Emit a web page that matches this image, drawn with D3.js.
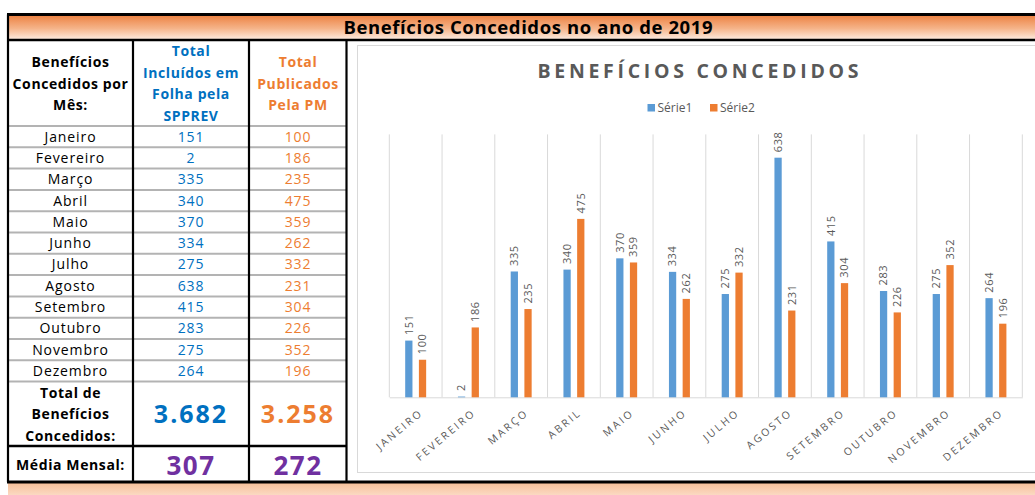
<!DOCTYPE html>
<html>
<head>
<meta charset="utf-8">
<script src="https://cdn.jsdelivr.net/npm/d3@7"></script>
<style>
  body { margin: 0; background: #fff; }
  svg { display: block; font-family: "Open Sans", sans-serif; }
</style>
</head>
<body>
<svg id="sheet" width="1035" height="495"></svg>
<script>
// data
const months = ["Janeiro", "Fevereiro", "Março", "Abril", "Maio", "Junho", "Julho", "Agosto", "Setembro", "Outubro", "Novembro", "Dezembro"];
const seriesNames = ["Série1", "Série2"];
const incluidos = [151, 2, 335, 340, 370, 334, 275, 638, 415, 283, 275, 264];
const publicados = [100, 186, 235, 475, 359, 262, 332, 231, 304, 226, 352, 196];
const yMax = 700;

const headerMes = ["Benefícios", "Concedidos por", "Mês:"];
const headerIncl = ["Total", "Incluídos em", "Folha pela", "SPPREV"];
const headerPub = ["Total", "Publicados", "Pela PM"];
const totalLabel = ["Total de", "Benefícios", "Concedidos:"];

const BLUE_TXT = "#0070c0";
const ORANGE_TXT = "#ed7d31";
const PURPLE = "#7030a0";
const BAR_COLORS = ["#5b9bd5", "#ed7d31"];
const GREY = "#595959";

const svg = d3.select("#sheet");
const defs = svg.append("defs");

const titleGrad = defs.append("linearGradient").attr("id", "titleGrad").attr("x1", 0).attr("x2", 0).attr("y1", 0).attr("y2", 1);
titleGrad.append("stop").attr("offset", "0%").attr("stop-color", "#ec7f3e");
titleGrad.append("stop").attr("offset", "55%").attr("stop-color", "#f5b48a");
titleGrad.append("stop").attr("offset", "100%").attr("stop-color", "#fdeee4");
const footGrad = defs.append("linearGradient").attr("id", "footGrad").attr("x1", 0).attr("x2", 0).attr("y1", 0).attr("y2", 1);
footGrad.append("stop").attr("offset", "0%").attr("stop-color", "#f6c09a");
footGrad.append("stop").attr("offset", "100%").attr("stop-color", "#fbd9c2");

// ---------- table ----------
const T = { left: 8, top: 14.5, titleBottom: 40, headerBottom: 126, rowsBottom: 381.6, totalBottom: 446, bottom: 482 };
const colX = [8, 133, 249, 346.5];
const colCenter = [70.5, 191, 298];

svg.append("rect").attr("x", T.left).attr("y", T.top).attr("width", 1035 - T.left).attr("height", T.titleBottom - T.top).attr("fill", "url(#titleGrad)");
svg.append("rect").attr("x", T.left).attr("y", T.bottom + 1).attr("width", 1035 - T.left).attr("height", 495 - T.bottom - 1).attr("fill", "url(#footGrad)");

svg.append("text")
  .attr("x", 528).attr("y", 33.5)
  .attr("text-anchor", "middle")
  .attr("font-size", 18.5).attr("font-weight", 700)
  .attr("fill", "#000")
  .attr("textLength", 369).attr("lengthAdjust", "spacing")
  .text("Benefícios Concedidos no ano de 2019");

const row = d3.scaleBand().domain(months).range([T.headerBottom, T.rowsBottom]);

// grey row dividers
const dividers = [T.headerBottom].concat(months.slice(1).map((m) => row(m)));
svg.append("g").selectAll("line").data(dividers).join("line")
  .attr("x1", T.left).attr("x2", colX[3])
  .attr("y1", (d) => d).attr("y2", (d) => d)
  .attr("stroke", "#b3b3b3").attr("stroke-width", 2);
svg.append("line").attr("x1", T.left).attr("x2", colX[3]).attr("y1", T.rowsBottom).attr("y2", T.rowsBottom)
  .attr("stroke", "#b3b3b3").attr("stroke-width", 2);

const multiLine = (lines, cx, cy, color, size) => {
  svg.append("g").selectAll("text").data(lines).join("text")
    .attr("x", cx)
    .attr("y", (d, i) => cy + (i - (lines.length - 1) / 2) * 21.5 + 5.5)
    .attr("text-anchor", "middle")
    .attr("font-size", size).attr("font-weight", 700)
    .attr("letter-spacing", 0.6)
    .attr("fill", color)
    .text((d) => d);
};
const headMid = (T.titleBottom + T.headerBottom) / 2;
multiLine(headerMes, colCenter[0], headMid, "#000", 14);
multiLine(headerIncl, colCenter[1], headMid, BLUE_TXT, 14);
multiLine(headerPub, colCenter[2], headMid, ORANGE_TXT, 14);

const rowText = svg.append("g").attr("font-size", 14).attr("letter-spacing", 0.9).attr("text-anchor", "middle");
months.forEach((m, i) => {
  const cy = row(m) + row.bandwidth() / 2 + 5;
  rowText.append("text").attr("x", colCenter[0]).attr("y", cy).attr("fill", "#000").text(m);
  rowText.append("text").attr("x", colCenter[1]).attr("y", cy).attr("fill", BLUE_TXT).text(incluidos[i]);
  rowText.append("text").attr("x", colCenter[2]).attr("y", cy).attr("fill", ORANGE_TXT).text(publicados[i]);
});

const fmtTotal = (v) => d3.format(",")(v).replace(/,/g, ".");
const totMid = (T.rowsBottom + T.totalBottom) / 2;
multiLine(totalLabel, colCenter[0], totMid, "#000", 14);
svg.append("text").attr("x", colCenter[1]).attr("y", totMid + 9.5).attr("text-anchor", "middle")
  .attr("font-size", 25).attr("font-weight", 700).attr("letter-spacing", 2).attr("fill", BLUE_TXT)
  .text(fmtTotal(d3.sum(incluidos)));
svg.append("text").attr("x", colCenter[2]).attr("y", totMid + 9.5).attr("text-anchor", "middle")
  .attr("font-size", 25).attr("font-weight", 700).attr("letter-spacing", 2).attr("fill", ORANGE_TXT)
  .text(fmtTotal(d3.sum(publicados)));

const medMid = (T.totalBottom + T.bottom) / 2;
svg.append("text").attr("x", colCenter[0]).attr("y", medMid + 6).attr("text-anchor", "middle")
  .attr("font-size", 14).attr("font-weight", 700).attr("letter-spacing", 0.6).text("Média Mensal:");
svg.append("text").attr("x", colCenter[1]).attr("y", medMid + 10.5).attr("text-anchor", "middle")
  .attr("font-size", 26).attr("font-weight", 700).attr("letter-spacing", 1.5).attr("fill", PURPLE)
  .text(Math.round(d3.mean(incluidos)));
svg.append("text").attr("x", colCenter[2]).attr("y", medMid + 10.5).attr("text-anchor", "middle")
  .attr("font-size", 26).attr("font-weight", 700).attr("letter-spacing", 1.5).attr("fill", PURPLE)
  .text(Math.round(d3.mean(publicados)));

// black rules
const black = svg.append("g").attr("stroke", "#000");
black.append("line").attr("x1", T.left - 1).attr("x2", 1035).attr("y1", T.top).attr("y2", T.top).attr("stroke-width", 3);
black.append("line").attr("x1", T.left - 1).attr("x2", 1035).attr("y1", T.titleBottom).attr("y2", T.titleBottom).attr("stroke-width", 2.5);
black.append("line").attr("x1", T.left - 1).attr("x2", colX[3]).attr("y1", T.totalBottom).attr("y2", T.totalBottom).attr("stroke-width", 2.5);
black.append("line").attr("x1", T.left - 1).attr("x2", 1035).attr("y1", T.bottom).attr("y2", T.bottom).attr("stroke-width", 3);
black.selectAll(".col").data(colX).join("line")
  .attr("x1", (d) => d).attr("x2", (d) => d)
  .attr("y1", (d, i) => (i === 0 ? T.top : T.titleBottom)).attr("y2", T.bottom)
  .attr("stroke-width", 2.2);

// ---------- chart ----------
svg.append("rect").attr("x", 357.5).attr("y", 45.5).attr("width", 700).attr("height", 427)
  .attr("fill", "#fff").attr("stroke", "#d9d9d9");

svg.append("text")
  .attr("x", 698).attr("y", 78.3)
  .attr("text-anchor", "middle")
  .attr("font-size", 19.5).attr("font-weight", 700)
  .attr("fill", GREY)
  .attr("textLength", 321).attr("lengthAdjust", "spacing")
  .text("BENEFÍCIOS CONCEDIDOS");

const legend = svg.append("g").attr("font-size", 12).attr("fill", GREY);
const legendX = [647.5, 710];
seriesNames.forEach((name, i) => {
  legend.append("rect").attr("x", legendX[i]).attr("y", 104).attr("width", 7.5).attr("height", 7.5).attr("fill", BAR_COLORS[i]);
  legend.append("text").attr("x", legendX[i] + 10).attr("y", 111.7).text(name);
});

const x = d3.scaleBand().domain(months).range([389.3, 1022.3]);
const xs = d3.scaleBand().domain(seriesNames).range([0, x.bandwidth()]).paddingInner(0.47).paddingOuter(1.16);
const y = d3.scaleLinear().domain([0, yMax]).range([397.3, 134.4]);

const gridX = months.map((m) => x(m)).concat([x.range()[1]]);
svg.append("g").selectAll("line").data(gridX).join("line")
  .attr("x1", (d) => d).attr("x2", (d) => d)
  .attr("y1", y(0)).attr("y2", y(yMax))
  .attr("stroke", "#d9d9d9").attr("stroke-width", 1);

const xAxis = svg.append("g")
  .attr("transform", `translate(0,${y(0)})`)
  .call(d3.axisBottom(x).tickSize(0).tickFormat((d) => d.toUpperCase()));
xAxis.select(".domain").attr("stroke", "#d9d9d9");
xAxis.selectAll("text")
  .attr("font-family", "\"Open Sans\", sans-serif")
  .attr("font-size", 10.5)
  .attr("letter-spacing", 2.3)
  .attr("fill", GREY)
  .attr("text-anchor", "end")
  .attr("x", 0).attr("y", 0).attr("dy", 0)
  .attr("transform", "translate(8,16.6) rotate(-40)");

const data = months.map((m, i) => ({ month: m, values: [incluidos[i], publicados[i]] }));
const groups = svg.append("g").selectAll("g").data(data).join("g")
  .attr("transform", (d) => `translate(${x(d.month)},0)`);

groups.selectAll("rect")
  .data((d) => d.values.map((v, i) => ({ name: seriesNames[i], value: v, color: BAR_COLORS[i] })))
  .join("rect")
  .attr("x", (d) => xs(d.name))
  .attr("width", xs.bandwidth())
  .attr("y", (d) => y(d.value))
  .attr("height", (d) => y(0) - y(d.value))
  .attr("fill", (d) => d.color);

groups.selectAll("text")
  .data((d) => d.values.map((v, i) => ({ name: seriesNames[i], value: v })))
  .join("text")
  .attr("transform", (d) => `translate(${xs(d.name) + xs.bandwidth() / 2},${y(d.value) - 5.5}) rotate(-90)`)
  .attr("dy", "0.35em")
  .attr("font-size", 11)
  .attr("letter-spacing", 0.6)
  .attr("fill", GREY)
  .text((d) => d.value);
</script>
</body>
</html>
